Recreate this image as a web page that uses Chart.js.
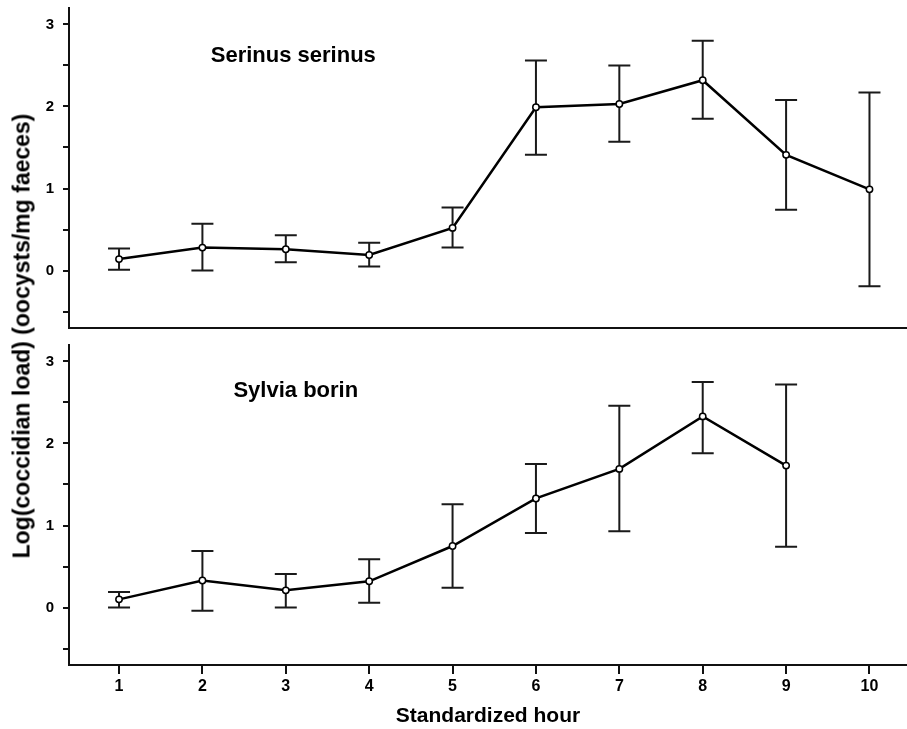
<!DOCTYPE html>
<html>
<head>
<meta charset="UTF-8">
<title>Coccidian load</title>
<script src="https://cdn.jsdelivr.net/npm/chart.js"></script>
<style>
    html, body { margin: 0; padding: 0; background: #fff; overflow: hidden; }
    .wrap { position: relative; width: 907px; height: 729px; }
    .panel { position: absolute; left: 0; width: 907px; }
    #top { top: 0; height: 340px; }
    #bottom { top: 340px; height: 389px; }
    #ytitle {
        position: absolute; left: 22px; top: 336px;
        transform: translate(-50%, -50%) rotate(-90deg);
        white-space: nowrap;
        font: bold 23px "Liberation Sans", Arial, sans-serif;
        color: #000;
    }
</style>
</head>
<body>
<div class="wrap">
    <div class="panel" id="top"><canvas id="topChart"></canvas></div>
    <div class="panel" id="bottom"><canvas id="bottomChart"></canvas></div>
    <div id="ytitle">Log(coccidian load) (oocysts/mg faeces)</div>
</div>
<script>
// standardized hours
const hours = [1, 2, 3, 4, 5, 6, 7, 8, 9, 10];
const xTicks = [1, 2, 3, 4, 5, 6, 7, 8, 9, 10];
const yTicks = [-0.5, 0, 0.5, 1, 1.5, 2, 2.5, 3];

// Serinus serinus (top)
const serinusMean = [0.14, 0.28, 0.26, 0.19, 0.52, 1.99, 2.03, 2.32, 1.41, 0.99];
const serinusLow  = [0.01, 0.00, 0.10, 0.05, 0.28, 1.41, 1.57, 1.85, 0.74, -0.19];
const serinusHigh = [0.27, 0.57, 0.43, 0.34, 0.77, 2.56, 2.50, 2.80, 2.08, 2.17];

// Sylvia borin (bottom)
const sylviaMean = [0.10, 0.33, 0.21, 0.32, 0.75, 1.33, 1.69, 2.33, 1.73];
const sylviaLow  = [0.00, -0.04, 0.00, 0.06, 0.24, 0.91, 0.93, 1.88, 0.74];
const sylviaHigh = [0.19, 0.69, 0.41, 0.59, 1.26, 1.75, 2.46, 2.75, 2.72];

const FONT = '"Liberation Sans", Arial, sans-serif';

// error bars + species label, drawn through the chart scales
const errorBars = {
    id: 'errorBars',
    beforeDatasetsDraw(chart, args, opts) {
        const { ctx, scales: { x, y } } = chart;
        ctx.save();
        ctx.strokeStyle = '#1a1a1a';
        ctx.lineWidth = 2;
        opts.low.forEach((lo, i) => {
            const px = x.getPixelForValue(opts.hours[i]);
            const pLo = y.getPixelForValue(lo);
            const pHi = y.getPixelForValue(opts.high[i]);
            ctx.beginPath();
            ctx.moveTo(px, pLo); ctx.lineTo(px, pHi);
            ctx.moveTo(px - 11, pLo); ctx.lineTo(px + 11, pLo);
            ctx.moveTo(px - 11, pHi); ctx.lineTo(px + 11, pHi);
            ctx.stroke();
        });
        ctx.restore();
    },
    afterDraw(chart, args, opts) {
        const { ctx, scales: { x, y } } = chart;
        ctx.save();
        ctx.fillStyle = '#000';
        ctx.font = 'bold 22px ' + FONT;
        ctx.textAlign = 'center';
        ctx.textBaseline = 'middle';
        ctx.fillText(opts.label, x.getPixelForValue(opts.labelAt[0]), y.getPixelForValue(opts.labelAt[1]));
        ctx.restore();
    }
};

// drop the label overhang padding chart.js adds around axes
function noPad(s) {
    s.paddingTop = 0; s.paddingBottom = 0; s.paddingLeft = 0; s.paddingRight = 0;
}

function makeChart(id, mean, low, high, label, labelAt, showX) {
    const pts = mean.map((v, i) => ({ x: hours[i], y: v }));
    return new Chart(document.getElementById(id), {
        type: 'line',
        data: {
            datasets: [{
                data: pts,
                borderColor: '#000',
                borderWidth: 2.5,
                pointRadius: 3.2,
                pointBorderWidth: 1.5,
                pointBorderColor: '#000',
                pointBackgroundColor: '#fff',
                tension: 0
            }]
        },
        options: {
            responsive: true,
            maintainAspectRatio: false,
            animation: false,
            layout: { autoPadding: false, padding: { top: showX ? 5 : 8, left: 0, right: 0, bottom: 0 } },
            plugins: {
                legend: { display: false },
                tooltip: { enabled: false },
                errorBars: { hours: hours, low: low, high: high, label: label, labelAt: labelAt }
            },
            scales: {
                x: {
                    type: 'linear',
                    min: 0.4,
                    max: 10.45,
                    afterBuildTicks: s => { s.ticks = xTicks.map(v => ({ value: v })); },
                    afterFit: s => { s.height = showX ? 64 : 12; noPad(s); },
                    border: { color: '#111', width: 2 },
                    grid: { drawOnChartArea: false, drawTicks: showX, tickLength: 9, color: '#111', lineWidth: 2 },
                    ticks: {
                        display: showX,
                        color: '#000',
                        padding: 3,
                        maxRotation: 0,
                        font: { family: FONT, size: 16, weight: 'bold' }
                    },
                    title: {
                        display: showX,
                        text: 'Standardized hour',
                        color: '#000',
                        padding: { top: 0, bottom: 0 },
                        font: { family: FONT, size: 21, weight: 'bold' }
                    }
                },
                y: {
                    min: -0.7,
                    max: 3.2,
                    afterBuildTicks: s => { s.ticks = yTicks.map(v => ({ value: v })); },
                    afterFit: s => { s.width = 69; noPad(s); },
                    border: { color: '#111', width: 2 },
                    grid: { drawOnChartArea: false, drawTicks: true, tickLength: 6, color: '#111', lineWidth: 2 },
                    ticks: {
                        color: '#000',
                        padding: 9,
                        font: { family: FONT, size: 15, weight: 'bold' },
                        callback: v => Number.isInteger(v) ? String(v) : ''
                    }
                }
            }
        },
        plugins: [errorBars]
    });
}

makeChart('topChart', serinusMean, serinusLow, serinusHigh, 'Serinus serinus', [3.09, 2.62], false);
makeChart('bottomChart', sylviaMean, sylviaLow, sylviaHigh, 'Sylvia borin', [3.12, 2.64], true);
</script>
</body>
</html>
